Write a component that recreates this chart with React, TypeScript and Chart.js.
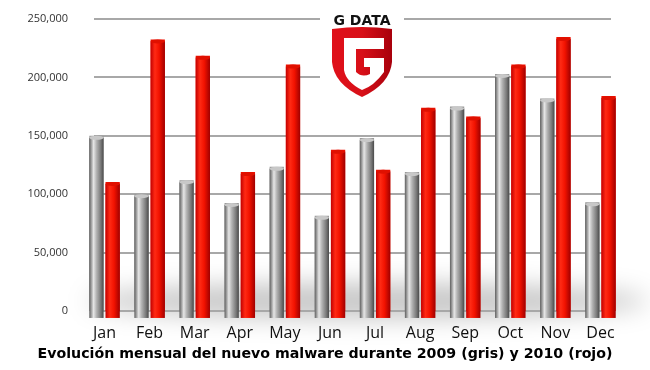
import React, { useEffect, useRef } from "react";
import { Chart, registerables } from "chart.js";
Chart.register(...registerables);

const months = ["Jan", "Feb", "Mar", "Apr", "May", "Jun", "Jul", "Aug", "Sep", "Oct", "Nov", "Dec"];
const values2009 = [150000, 100000, 112000, 92500, 123500, 81500, 148000, 119000, 175000, 203000, 182000, 93000];
const values2010 = [110500, 232500, 218500, 119000, 211000, 138000, 121000, 174000, 166500, 211000, 234500, 184000];
const yMax = 250000;
const yStep = 50000;
const chartTitle = "Evolución mensual del nuevo malware durante 2009 (gris) y 2010 (rojo)";
const logoText = "G DATA";

const decorPlugin = {
  id: "decor",
  beforeDatasetsDraw(chart: any) {
    const { ctx, chartArea } = chart;
    const ys = chart.scales.y;
    ctx.save();
    // soft floor shadow
    ctx.filter = "blur(12px)";
    ctx.fillStyle = "rgba(0,0,0,0.22)";
    ctx.beginPath();
    ctx.ellipse((chartArea.left + chartArea.right) / 2 + 15, chartArea.bottom - 10, (chartArea.right - chartArea.left) / 2 + 10, 18, 0, 0, Math.PI * 2);
    ctx.fill();
    ctx.filter = "none";
    // gridlines
    ctx.strokeStyle = "#a8a8a8";
    ctx.lineWidth = 2;
    ys.ticks.forEach((t: any) => {
      const y = Math.round(ys.getPixelForValue(t.value));
      ctx.beginPath();
      ctx.moveTo(chartArea.left + 12, y);
      ctx.lineTo(chartArea.right - 12, y);
      ctx.stroke();
    });
    // logo
    const cx = 362;
    ctx.fillStyle = "#ffffff";
    ctx.fillRect(cx - 42, 4, 84, 98);
    ctx.fillStyle = "#111";
    ctx.font = "bold 14px 'DejaVu Sans', sans-serif";
    ctx.textAlign = "center";
    ctx.textBaseline = "middle";
    ctx.fillText(logoText, cx, 21);
    const grad = ctx.createLinearGradient(cx - 30, 0, cx + 30, 0);
    grad.addColorStop(0, "#e0101a");
    grad.addColorStop(0.5, "#d81018");
    grad.addColorStop(1, "#a8000c");
    ctx.fillStyle = grad;
    ctx.beginPath();
    ctx.moveTo(cx - 30, 29);
    ctx.quadraticCurveTo(cx, 25, cx + 30, 29);
    ctx.lineTo(cx + 30, 62);
    ctx.quadraticCurveTo(cx + 28, 84, cx, 97);
    ctx.quadraticCurveTo(cx - 28, 84, cx - 30, 62);
    ctx.closePath();
    ctx.fill();
    ctx.fillStyle = "#ffffff";
    ctx.beginPath();
    ctx.moveTo(cx - 18, 38);
    ctx.lineTo(cx + 22, 38);
    ctx.lineTo(cx + 22, 49);
    ctx.lineTo(cx - 6, 49);
    ctx.lineTo(cx - 6, 72);
    ctx.quadraticCurveTo(cx, 78, cx + 8, 74);
    ctx.lineTo(cx + 8, 67);
    ctx.lineTo(cx + 2, 67);
    ctx.lineTo(cx + 2, 58);
    ctx.lineTo(cx + 22, 58);
    ctx.lineTo(cx + 22, 72);
    ctx.quadraticCurveTo(cx + 12, 86, cx, 90);
    ctx.quadraticCurveTo(cx - 16, 82, cx - 18, 70);
    ctx.closePath();
    ctx.fill();
    ctx.restore();
  },
  afterDatasetsDraw(chart: any) {
    const { ctx } = chart;
    ctx.save();
    chart.data.datasets.forEach((ds: any, di: number) => {
      const meta = chart.getDatasetMeta(di);
      const gray = di === 0;
      meta.data.forEach((el: any) => {
        const w = el.width;
        const l = el.x - w / 2;
        const top = el.y;
        const h = el.base - el.y + 7;
        const g = ctx.createLinearGradient(l, 0, l + w, 0);
        if (gray) {
          g.addColorStop(0, "#5e5e5e");
          g.addColorStop(0.3, "#e6e6e6");
          g.addColorStop(0.5, "#b4b4b4");
          g.addColorStop(0.8, "#7a7a7a");
          g.addColorStop(1, "#4a4a4a");
        } else {
          g.addColorStop(0, "#c40000");
          g.addColorStop(0.3, "#ff2a14");
          g.addColorStop(0.6, "#f21200");
          g.addColorStop(1, "#a00000");
        }
        ctx.fillStyle = g;
        ctx.fillRect(l, top + 2, w, h - 2);
        ctx.beginPath();
        ctx.ellipse(el.x, top + 2, w / 2, 2, 0, 0, Math.PI * 2);
        ctx.fillStyle = gray ? "#c8c8c8" : "#e01000";
        ctx.fill();
      });
    });
    ctx.restore();
  },
};

export default function App() {
  const ref = useRef<HTMLCanvasElement | null>(null);
  useEffect(() => {
    document.body.style.margin = "0";
    const chart = new Chart(ref.current as HTMLCanvasElement, {
      type: "bar",
      data: {
        labels: months,
        datasets: [
          { label: "2009", data: values2009, backgroundColor: "#999999", categoryPercentage: 0.72, barPercentage: 0.88 },
          { label: "2010", data: values2010, backgroundColor: "#ee1100", categoryPercentage: 0.72, barPercentage: 0.88 },
        ],
      },
      options: {
        responsive: false,
        animation: false,
        layout: { padding: { left: 0, right: 0, top: 19, bottom: 0 } },
        plugins: {
          legend: { display: false },
          tooltip: { enabled: false },
          title: {
            display: true,
            text: chartTitle,
            position: "bottom",
            color: "#000",
            font: { family: "'DejaVu Sans', sans-serif", size: 14.2, weight: "bold" },
            padding: { top: 2, bottom: 7 },
          },
        },
        scales: {
          x: {
            grid: { display: false },
            border: { display: false },
            ticks: { color: "#111", font: { family: "'Open Sans', sans-serif", size: 16 }, padding: 5 },
            afterFit: (s: any) => { s.height = 33; },
          },
          y: {
            min: 0,
            max: yMax,
            grid: { display: false },
            border: { display: false },
            ticks: {
              stepSize: yStep,
              color: "#333",
              padding: 6,
              font: { family: "'Open Sans', sans-serif", size: 11 },
              callback: (v: any) => Number(v).toLocaleString("en-US"),
            },
            afterFit: (s: any) => { s.width = 82; },
          },
          yRight: {
            position: "right",
            min: 0,
            max: yMax,
            grid: { display: false },
            border: { display: false },
            ticks: { display: false },
            afterFit: (s: any) => { s.width = 27; },
          },
        },
      },
      plugins: [decorPlugin],
    });
    return () => chart.destroy();
  }, []);
  return (
    <div style={{ width: 650, height: 370 }}>
      <canvas ref={ref} width={650} height={370} />
    </div>
  );
}
